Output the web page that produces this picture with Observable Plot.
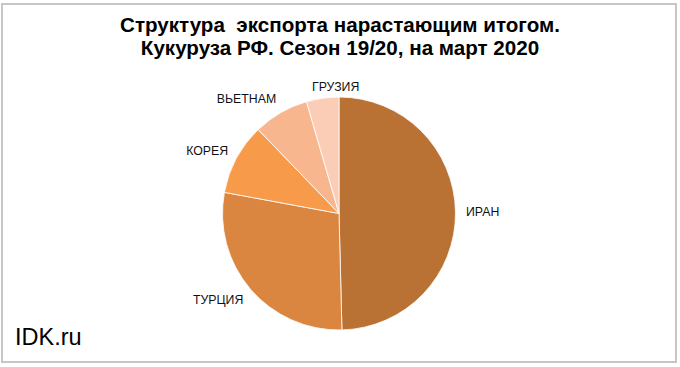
<!DOCTYPE html>
<html>
<head>
<meta charset="utf-8">
<script src="https://cdn.jsdelivr.net/npm/d3@7"></script>
<script src="https://cdn.jsdelivr.net/npm/@observablehq/plot@0.6"></script>
<style>
  html, body { margin: 0; padding: 0; background: #fff; }
  #wrap { position: relative; width: 680px; height: 367px; overflow: hidden; font-family: "Liberation Sans", Arial, sans-serif; }
  #frame { position: absolute; left: 1px; top: 3px; width: 676px; height: 360px; border: 2px solid #c6c6c6; box-sizing: border-box; }
  #title { position: absolute; left: 0; top: 13px; width: 680px; text-align: center; font-weight: bold; font-size: 20.6px; line-height: 23px; color: #000; }
  #chart { position: absolute; left: 0; top: 0; }
  #brand { position: absolute; left: 15px; top: 324px; font-size: 23.5px; color: #000; }
</style>
</head>
<body>
<div id="wrap">
  <div id="frame"></div>
  <div id="chart"></div>
  <div id="title">Структура&nbsp; экспорта нарастающим итогом.<br>Кукуруза&nbsp;РФ. Сезон 19/20, на март 2020</div>
  <div id="brand">IDK.ru</div>
</div>
<script>
const categories = ["ИРАН", "ТУРЦИЯ", "КОРЕЯ", "ВЬЕТНАМ", "ГРУЗИЯ"];
const shares = [49.6, 28.3, 9.9, 7.7, 4.5];
const colors = ["#b97234", "#da8540", "#f79a4a", "#f8b68e", "#fbcdb6"];

const data = categories.map((c, i) => ({category: c, share: shares[i], color: colors[i]}));
const arcs = d3.pie().sort(null).value(d => d.share)(data);
arcs.forEach(a => { a.mid = (a.startAngle + a.endAngle) / 2; });

const gap = 0.086;
const labels = arcs.map(a => {
  const s = Math.sin(a.mid), c = Math.cos(a.mid);
  return {
    text: a.data.category,
    x: (1 + gap) * s,
    y: (1 + gap) * c + c * 0.05,
    anchor: s > 0.3 ? "start" : s < -0.3 ? "end" : "middle"
  };
});

function pieMark(index, scales) {
  const cx = scales.x(0), cy = scales.y(0), r = scales.x(1) - scales.x(0);
  const g = d3.create("svg:g").attr("transform", `translate(${cx},${cy})`);
  const arc = d3.arc().innerRadius(0).outerRadius(r);
  g.selectAll("path").data(arcs).join("path")
    .attr("d", arc)
    .attr("fill", d => d.data.color)
    .attr("stroke", "#fff")
    .attr("stroke-width", 0.8);
  return g.node();
}

const textMark = (anchor, dx = 0, dy = 0) => Plot.text(labels.filter(d => d.anchor === anchor), {
  x: "x", y: "y", text: "text", textAnchor: anchor, lineAnchor: "middle", dx, dy,
  fontSize: 12.3, fill: "#111", fontFamily: "Liberation Sans, Arial, sans-serif"
});

const plot = Plot.plot({
  width: 680,
  height: 367,
  margin: 0,
  style: {background: "transparent", overflow: "visible"},
  x: {domain: [-1, 1], range: [222.5, 455.5], axis: null},
  y: {domain: [-1, 1], range: [330, 97], axis: null},
  marks: [
    pieMark,
    textMark("start"),
    textMark("end"),
    textMark("middle", 14, 4)
  ]
});
document.getElementById("chart").appendChild(plot);
</script>
</body>
</html>
